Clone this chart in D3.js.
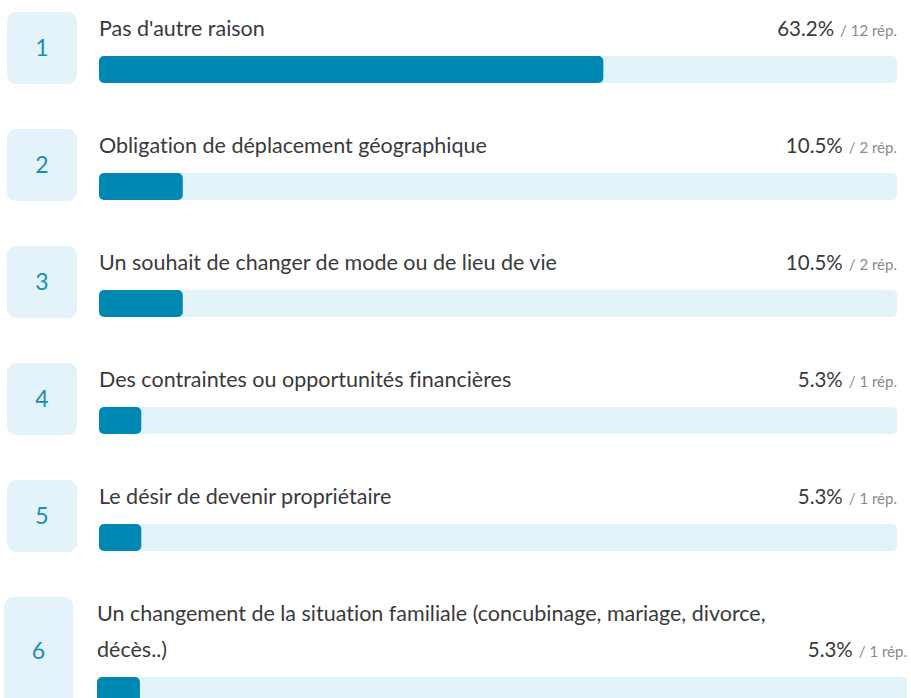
<!DOCTYPE html>
<html>
<head>
<meta charset="utf-8">
<script src="https://cdn.jsdelivr.net/npm/d3@7"></script>
<style>
  body { margin: 0; background: #fff; }
  svg { display: block; font-family: "Source Sans Pro", Lato, "Noto Sans", sans-serif; font-variant-ligatures: none; }
</style>
</head>
<body>
<svg id="mainSVG"></svg>
<script>
// chart data
var ranks = [1, 2, 3, 4, 5, 6];
var labels = [
    "Pas d'autre raison",
    "Obligation de déplacement géographique",
    "Un souhait de changer de mode ou de lieu de vie",
    "Des contraintes ou opportunités financières",
    "Le désir de devenir propriétaire",
    "Un changement de la situation familiale (concubinage, mariage, divorce, décès..)"
];
var percents = [63.2, 10.5, 10.5, 5.3, 5.3, 5.3];
var counts = [12, 2, 2, 1, 1, 1];

var width = 911;
var height = 698;
// vertical pitch between rows
var rowStep = 117;
var lineHeight = 36;
var labelSize = 21.5;
// wrap width for the question text
var wrapWidth = 700;

// two layouts: one-line rows and the wrapped last row (wider in the source)
var layoutOne = { boxX: 7, boxW: 70, labelX: 99, right: 897 };
var layoutWrap = { boxX: 4, boxW: 69, labelX: 97, right: 907 };

var svg = d3.select("#mainSVG")
    .attr("width", width)
    .attr("height", height);

// split text into lines that fit in maxW
function wrapLines(text, maxW) {
    var probe = svg.append("text").attr("font-size", labelSize);
    var words = text.split(" ");
    var lines = [];
    var line = "";
    words.forEach(function(w) {
        var test = line ? line + " " + w : w;
        probe.text(test);
        if (probe.node().getComputedTextLength() > maxW && line) {
            lines.push(line);
            line = w;
        } else {
            line = test;
        }
    });
    lines.push(line);
    probe.remove();
    return lines;
}

ranks.forEach(function(rank, i) {
    var lines = wrapLines(labels[i], wrapWidth);
    var L = lines.length > 1 ? layoutWrap : layoutOne;
    var top = 12 + i * rowStep;
    var extra = (lines.length - 1) * lineHeight;

    var x = d3.scaleLinear()
        .domain([0, 100])
        .range([L.labelX, L.right]);

    var g = svg.append("g").attr("class", "row");

    // number box
    var boxH = 72 + extra;
    g.append("rect")
        .attr("x", L.boxX)
        .attr("y", top)
        .attr("width", L.boxW)
        .attr("height", boxH)
        .attr("rx", 9)
        .attr("fill", "#e3f3f9");
    g.append("text")
        .attr("x", L.boxX + L.boxW / 2)
        .attr("y", top + boxH / 2 + 8)
        .attr("text-anchor", "middle")
        .attr("font-size", 23)
        .attr("fill", "#1a8db5")
        .text(rank);

    // question text
    lines.forEach(function(ln, j) {
        g.append("text")
            .attr("x", L.labelX)
            .attr("y", top + 24 + j * lineHeight)
            .attr("font-size", labelSize)
            .attr("fill", "#3a3a3a")
            .text(ln);
    });

    // percent and count, right aligned on the last line
    var pct = g.append("text")
        .attr("x", L.right)
        .attr("y", top + 24 + extra)
        .attr("text-anchor", "end");
    pct.append("tspan")
        .attr("font-size", 20.5)
        .attr("fill", "#3a3a3a")
        .text(percents[i].toFixed(1) + "%");
    pct.append("tspan")
        .attr("font-size", 15)
        .attr("fill", "#8a8a8a")
        .attr("dx", 6)
        .text("/ " + counts[i] + " rép.");

    // track and bar
    var barY = top + 44 + extra;
    g.append("rect")
        .attr("x", x(0))
        .attr("y", barY)
        .attr("width", x(100) - x(0))
        .attr("height", 27)
        .attr("rx", 5)
        .attr("fill", "#e1f2f8");
    g.append("rect")
        .attr("x", x(0))
        .attr("y", barY)
        .attr("width", x(percents[i]) - x(0))
        .attr("height", 27)
        .attr("rx", 5)
        .attr("fill", "#0088b3");
});
</script>
</body>
</html>
